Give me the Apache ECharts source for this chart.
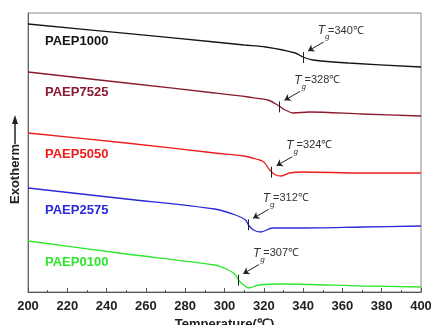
<!DOCTYPE html>
<html>
<head>
<meta charset="utf-8">
<script src="https://cdn.jsdelivr.net/npm/echarts@6/dist/echarts.min.js"></script>
<style>
  html, body { margin: 0; padding: 0; background: #fff; }
  #chart { width: 431px; height: 325px; }
</style>
</head>
<body>
<div id="chart"></div>
<script>
// DSC curves, heat flow in arbitrary units (shifted for each sample)
const names = ['PAEP1000', 'PAEP7525', 'PAEP5050', 'PAEP2575', 'PAEP0100'];
const tgValues = [340, 328, 324, 312, 307];

const temp1000 = [200, 250, 295, 310, 321, 336, 340, 345, 363, 400];
const flow1000 = [268, 258.6, 250, 247, 245, 239, 235, 232, 229, 225];

const temp7525 = [200, 250, 295, 312, 322, 327, 330, 335, 343, 370, 400];
const flow7525 = [220, 209, 199, 195, 192, 187, 183, 179, 180, 178, 176];

const temp5050 = [200, 250, 295, 310, 316, 320, 323, 326, 329, 333, 340, 370, 400];
const flow5050 = [159, 149, 139, 136, 133, 130, 122, 117, 116, 119, 120, 119, 119];

const temp2575 = [200, 250, 295, 305.6, 310.7, 312.2, 314.8, 318.4, 324.5, 338, 370, 400];
const flow2575 = [104, 93, 83, 77, 72, 67, 62, 60, 64, 64, 65, 66];

const temp0100 = [200, 250, 295, 302, 305.6, 307.1, 309.7, 312.2, 317.3, 330, 370, 400];
const flow0100 = [51, 38, 27, 22, 17, 12, 7, 4, 7, 8, 6, 5];

const temps = [temp1000, temp7525, temp5050, temp2575, temp0100];
const flows = [flow1000, flow7525, flow5050, flow2575, flow0100];

const colors = ['#151515', '#8b1a30', '#ee1c1c', '#2a2ad8', '#2ee62e'];
const labelTops = [42, 93, 155, 211, 263];

function interp(xs, ys, x) {
    for (let i = 1; i < xs.length; i++) {
        if (x <= xs[i]) {
            const f = (x - xs[i - 1]) / (xs[i] - xs[i - 1]);
            return ys[i - 1] + f * (ys[i] - ys[i - 1]);
        }
    }
    return ys[ys.length - 1];
}

var chartDom = document.getElementById('chart');
var myChart = echarts.init(chartDom);

const series = names.map(function (name, k) {
    const tg = tgValues[k];
    const h = interp(temps[k], flows[k], tg);
    const sx = tg + 10.5, sy = h + 15;
    return {
        name: name,
        type: 'line',
        smooth: 0.3,
        showSymbol: false,
        symbol: 'none',
        lineStyle: { color: colors[k], width: 1.3 },
        data: temps[k].map(function (t, i) { return [t, flows[k][i]]; }),
        markLine: {
            silent: true,
            animation: false,
            label: { show: false },
            lineStyle: { color: '#222', width: 1, type: 'solid' },
            symbolSize: 6,
            data: [
                [{ coord: [tg, h - 6], symbol: 'none' }, { coord: [tg, h + 5], symbol: 'none' }],
                [{ coord: [sx, sy], symbol: 'none' }, { coord: [tg + 2.5, h + 6], symbol: 'arrow' }]
            ]
        },
        markPoint: {
            silent: true,
            animation: false,
            symbol: 'circle',
            symbolSize: 1,
            itemStyle: { color: 'rgba(0,0,0,0)' },
            label: {
                show: true,
                position: 'inside',
                align: 'left',
                verticalAlign: 'bottom',
                offset: [-6, -1],
                formatter: '{i|T}{s|g}{n|=' + tg + '℃}',
                rich: {
                    i: { fontStyle: 'italic', fontSize: 12, color: '#333', fontFamily: 'Liberation Sans', verticalAlign: 'top', lineHeight: 16 },
                    s: { fontStyle: 'italic', fontSize: 8, color: '#333', fontFamily: 'Liberation Sans', verticalAlign: 'bottom', lineHeight: 16, width: 3 },
                    n: { fontSize: 11, color: '#333', fontFamily: 'Liberation Sans', verticalAlign: 'top', lineHeight: 16 }
                }
            },
            data: [{ coord: [sx, sy] }]
        }
    };
});

const graphic = names.map(function (name, k) {
    return {
        type: 'text',
        left: 45,
        top: labelTops[k] - 7,
        style: {
            text: name,
            fill: colors[k],
            font: 'bold 13px "Liberation Sans", Arial, sans-serif'
        }
    };
});
// y-axis title: "Exotherm" with an upward arrow above it
graphic.push({
    type: 'text',
    x: 15,
    y: 174,
    rotation: Math.PI / 2,
    style: {
        text: 'Exotherm',
        fill: '#222',
        align: 'center',
        verticalAlign: 'middle',
        font: 'bold 13px "Liberation Sans", Arial, sans-serif'
    }
});
graphic.push({
    type: 'line',
    shape: { x1: 15, y1: 144, x2: 15, y2: 122 },
    style: { stroke: '#222', lineWidth: 1.5 }
});
graphic.push({
    type: 'polygon',
    shape: { points: [[15, 115], [12, 124], [18, 124]] },
    style: { fill: '#222' }
});

var option = {
    animation: false,
    grid: {
        left: 28, right: 10, top: 13, bottom: 33,
        outerBoundsMode: 'none',
        containLabel: false,
        show: true,
        borderColor: '#888',
        borderWidth: 1
    },
    xAxis: {
        type: 'value',
        min: 200,
        max: 400,
        interval: 20,
        name: 'Temperature(℃)',
        nameLocation: 'middle',
        nameGap: 21,
        nameTextStyle: { fontSize: 13, fontWeight: 'bold', color: '#222', fontFamily: 'Liberation Sans' },
        axisLine: { lineStyle: { color: '#555', width: 1 } },
        axisTick: { inside: true, length: 4, lineStyle: { color: '#555' } },
        minorTick: { show: true, splitNumber: 2, length: 2, lineStyle: { color: '#555' } },
        axisLabel: { fontSize: 13, fontWeight: 'bold', color: '#222', fontFamily: 'Liberation Sans', margin: 8 },
        splitLine: { show: false }
    },
    yAxis: {
        type: 'value',
        min: 0,
        max: 279,
        axisLine: { show: true, lineStyle: { color: '#666' } },
        axisTick: { show: false },
        axisLabel: { show: false },
        splitLine: { show: false }
    },
    graphic: graphic,
    series: series
};

option && myChart.setOption(option);
</script>
</body>
</html>
